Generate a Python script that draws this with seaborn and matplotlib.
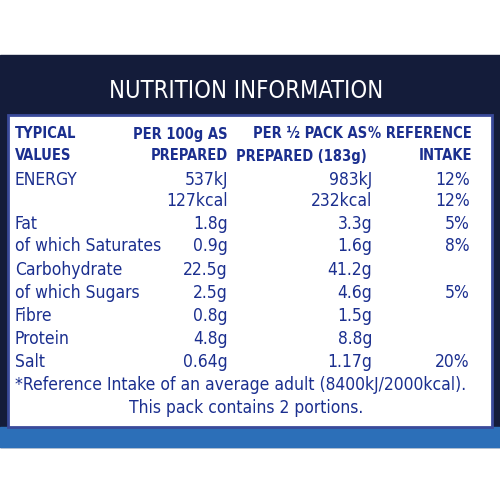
import matplotlib
matplotlib.use('Agg')
import matplotlib.pyplot as plt
import matplotlib.patches as patches
import seaborn as sns

sns.set_style('white')
plt.rcParams['font.family'] = ['DejaVu Sans']

title = 'NUTRITION INFORMATION'
header_left = ['TYPICAL', 'VALUES']
header_100g = ['PER 100g AS', 'PREPARED']
header_pack = ['PER ½ PACK AS', 'PREPARED (183g)']
header_ri = ['% REFERENCE', 'INTAKE']

labels = ['ENERGY', '', 'Fat', 'of which Saturates', 'Carbohydrate',
          'of which Sugars', 'Fibre', 'Protein', 'Salt']
per_100g = ['537kJ', '127kcal', '1.8g', '0.9g', '22.5g', '2.5g', '0.8g', '4.8g', '0.64g']
per_pack = ['983kJ', '232kcal', '3.3g', '1.6g', '41.2g', '4.6g', '1.5g', '8.8g', '1.17g']
ref_intake = ['12%', '12%', '5%', '8%', '', '5%', '', '', '20%']
row_y = [180, 201, 224, 246, 270, 293, 316, 339, 362]
footnote = ['*Reference Intake of an average adult (8400kJ/2000kcal).',
            'This pack contains 2 portions.']

blue = '#1b2f8f'
fig = plt.figure(figsize=(5, 5), dpi=100)
ax = fig.add_axes([0, 0, 1, 1])
ax.set_xlim(0, 500)
ax.set_ylim(500, 0)
ax.axis('off')

ax.add_patch(patches.Rectangle((0, 55), 500, 392, color='#141c3a'))
ax.add_patch(patches.Rectangle((0, 427), 500, 20, color='#2c6fb8'))
ax.add_patch(patches.Rectangle((8, 115), 484, 312, facecolor='white',
                               edgecolor='#3a4a9a', lw=2))
ax.text(246, 91, title, color='white', fontsize=17, ha='center', va='center',
        fontstretch='condensed')

kw = dict(color=blue, fontsize=12.5, va='center', fontstretch='condensed')
hk = dict(kw, fontweight='bold', fontsize=10.5)
for i, y in enumerate([134, 156]):
    ax.text(15, y, header_left[i], ha='left', **hk)
    ax.text(228, y, header_100g[i], ha='right', **hk)
    ax.text(367, y, header_pack[i], ha='right', **hk)
    ax.text(472, y, header_ri[i], ha='right', **hk)

for lab, a, b, c, y in zip(labels, per_100g, per_pack, ref_intake, row_y):
    ax.text(15, y, lab, ha='left', **kw)
    ax.text(228, y, a, ha='right', **kw)
    ax.text(372, y, b, ha='right', **kw)
    ax.text(470, y, c, ha='right', **kw)

ax.text(15, 385, footnote[0], ha='left', **kw)
ax.text(246, 408, footnote[1], ha='center', **kw)

fig.savefig('out.png', dpi=100)
